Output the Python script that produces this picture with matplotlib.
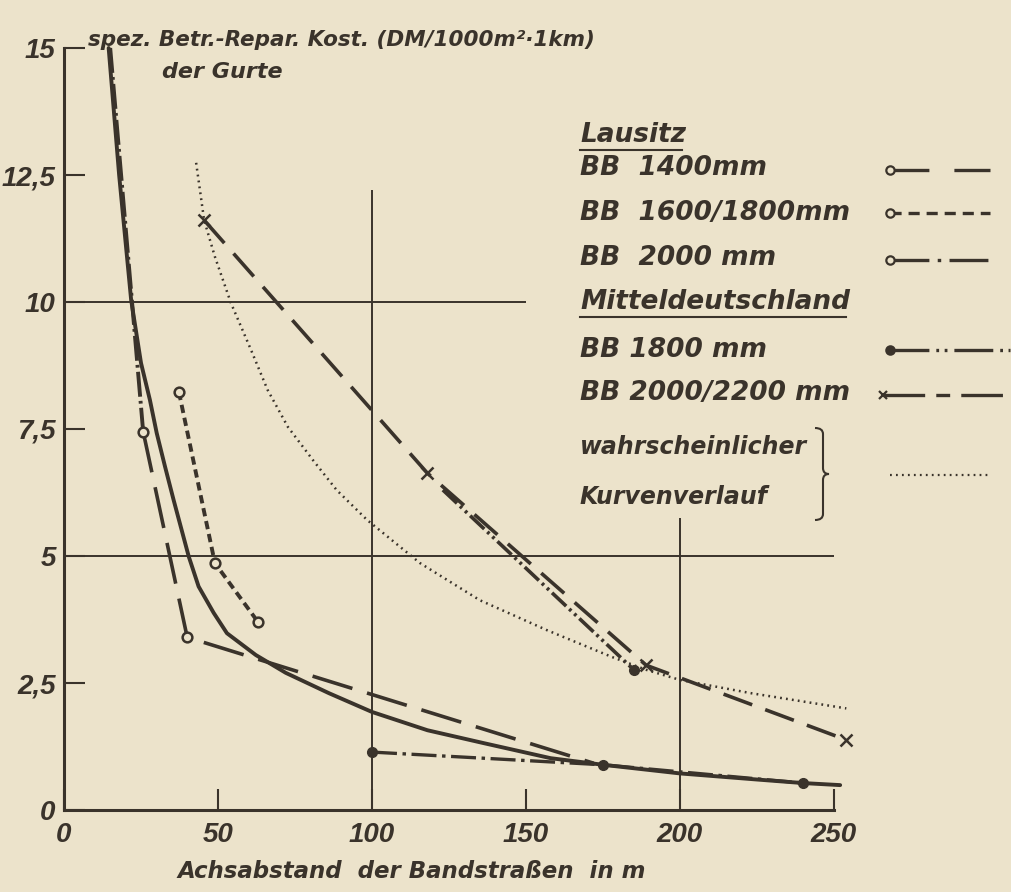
import matplotlib
matplotlib.use("Agg")
import matplotlib.pyplot as plt
from matplotlib.lines import Line2D
from matplotlib.path import Path
from matplotlib.patches import PathPatch

plt.rcParams['lines.scale_dashes'] = False
FONT = ['DejaVu Sans']
TICKFONT = ['Liberation Sans', 'DejaVu Sans']
BG = '#ece3cb'
INK = '#3a332b'

# ---------------- data ----------------
x_ticks = [0, 50, 100, 150, 200, 250]
x_tick_labels = ['0', '50', '100', '150', '200', '250']
y_ticks = [0, 2.5, 5, 7.5, 10, 12.5, 15]
y_tick_labels = ['0', '2,5', '5', '7,5', '10', '12,5', '15']

# solid mean curve
solid_x = [14.5, 17.9, 21.8, 25, 27.9, 30.1, 32.8, 35.6, 40.5, 43.7, 48.6, 52.9, 62.3, 72,
           86, 100, 118, 136, 158, 175, 200, 225, 240, 252]
solid_y = [15, 12.5, 10.04, 8.8, 8.07, 7.42, 6.76, 6.10, 4.99, 4.40, 3.88, 3.48, 3.05, 2.70,
           2.30, 1.93, 1.57, 1.32, 1.02, 0.89, 0.72, 0.60, 0.53, 0.49]

# Lausitz
bb2000_x = [15, 25.7]
bb2000_y = [15, 7.45]
bb1400_x = [25.7, 40, 172]
bb1400_y = [7.45, 3.4, 0.92]
bb1600_x = [37.3, 49, 63]
bb1600_y = [8.23, 4.86, 3.7]

# Mitteldeutschland
bb1800a_x = [123, 185]
bb1800a_y = [6.3, 2.76]
bb1800b_x = [100, 175, 240]
bb1800b_y = [1.14, 0.89, 0.53]
bb2200_x = [45.5, 118, 189, 254]
bb2200_y = [11.61, 6.63, 2.85, 1.38]

# probable curve
dot_x = [42.9, 45.5, 49, 54.2, 60.7, 66.1, 72.7, 80.8, 88.5, 98.4, 115.6, 135, 156.8,
         178, 189, 200, 223, 254]
dot_y = [12.74, 11.61, 10.89, 9.98, 9.06, 8.27, 7.54, 6.89, 6.30, 5.71, 4.86, 4.13, 3.54,
         3.01, 2.76, 2.56, 2.30, 2.0]

# partial grid lines: (value, start, end)
grid_h = [(10, 0, 150), (5, 0, 250)]
grid_v = [(100, 0, 12.2), (200, 0, 5.75)]

# ---------------- figure ----------------
W, H = 1012, 892
fig = plt.figure(figsize=(W / 100, H / 100), dpi=100, facecolor=BG)
ax = fig.add_axes([64 / W, 82 / H, 770 / W, 762 / H])
ax.set_facecolor(BG)
ax.set_xlim(0, 250)
ax.set_ylim(0, 15)
for s in ['top', 'right']:
    ax.spines[s].set_visible(False)
for s in ['left', 'bottom']:
    ax.spines[s].set_color(INK)
    ax.spines[s].set_linewidth(2.2)

ax.set_xticks(x_ticks)
ax.set_xticklabels(x_tick_labels)
ax.set_yticks(y_ticks)
ax.set_yticklabels(y_tick_labels)
ax.tick_params(axis='both', direction='in', length=15, width=1.5, color=INK,
               labelcolor=INK, labelsize=20)
ax.tick_params(axis='x', pad=9)
ax.tick_params(axis='y', pad=6)
for lab in ax.get_xticklabels() + ax.get_yticklabels():
    lab.set_family(TICKFONT)
    lab.set_style('italic')
    lab.set_weight('bold')

for v, a, b in grid_h:
    ax.hlines(v, a, b, color=INK, lw=1.4, zorder=1)
for v, a, b in grid_v:
    ax.vlines(v, a, b, color=INK, lw=1.4, zorder=1)

kw = dict(color=INK, clip_on=False, zorder=3)
ax.plot(solid_x, solid_y, lw=2.8, solid_capstyle='round', solid_joinstyle='round', **kw)
ax.plot(bb2000_x, bb2000_y, lw=2.8, dashes=(18, 3, 2, 3), **kw)
ax.plot(bb1400_x, bb1400_y, lw=2.6, dashes=(30, 11), marker='o', ms=7, mew=1.8,
        mfc=BG, markevery=[0, 1], **kw)
ax.plot(bb1600_x, bb1600_y, lw=2.8, dashes=(6, 3.5), marker='o', ms=7, mew=1.8,
        mfc=BG, **kw)
ax.plot(bb1800a_x, bb1800a_y, lw=2.6, dashes=(14, 3, 2, 3, 2, 3), marker='o', ms=7,
        mfc=INK, markevery=[1], **kw)
ax.plot(bb1800b_x, bb1800b_y, lw=2.4, dashes=(18, 4, 2.5, 4), marker='o', ms=7,
        mfc=INK, **kw)
ax.plot(bb2200_x, bb2200_y, lw=2.6, dashes=(22, 10), marker='x', ms=9, mew=1.8, **kw)
ax.plot(dot_x, dot_y, lw=1.8, dashes=(1.3, 3.0), **kw)

# ---------------- texts ----------------
def P(x, y):
    return (x / W, 1 - y / H)

tkw = dict(color=INK, family=FONT, style='italic', weight='bold')
fig.text(*P(88, 40), 'spez. Betr.-Repar. Kost. (DM/1000m²·1km)', fontsize=15.5,
         ha='left', va='center', **tkw)
fig.text(*P(162, 72), 'der Gurte', fontsize=16, ha='left', va='center', **tkw)
fig.text(*P(412, 872), 'Achsabstand  der Bandstraßen  in m', fontsize=16.5,
         ha='center', va='center', **tkw)

legend_rows = [
    ('Lausitz', 135, True, 19),
    ('BB  1400mm', 168, False, 19),
    ('BB  1600/1800mm', 213, False, 19),
    ('BB  2000 mm', 258, False, 19),
    ('Mitteldeutschland', 302, True, 19),
    ('BB 1800 mm', 350, False, 19),
    ('BB 2000/2200 mm', 393, False, 19),
    ('wahrscheinlicher', 447, False, 17),
    ('Kurvenverlauf', 497, False, 17),
]
fig.canvas.draw()
for txt, yy, ul, fs in legend_rows:
    t = fig.text(*P(580, yy), txt, fontsize=fs, ha='left', va='center', **tkw)
    if ul:
        bb = t.get_window_extent(renderer=fig.canvas.get_renderer())
        fig.add_artist(Line2D([bb.x0 / W, (bb.x1 - 4) / W], [P(0, yy + 15)[1]] * 2,
                              color=INK, lw=1.5))

def sample(y, dashes, marker=None, mfc=BG, x0=890, x1=990, lw=2.4, ms=6):
    xs, ys = [P(x0, y)[0], P(x1, y)[0]], [P(x0, y)[1]] * 2
    fig.add_artist(Line2D(xs, ys, color=INK, lw=lw, dashes=dashes))
    if marker:
        fig.add_artist(Line2D([xs[0]], [ys[0]], color=INK, marker=marker, ms=ms, mew=1.6,
                              mfc=mfc, ls='none'))

sample(170, (28, 18), marker='o')
sample(213, (8, 5), marker='o')
sample(260, (28, 6, 2.5, 6), marker='o')
sample(350, (28, 5, 2, 4, 2, 5), marker='o', mfc=INK, x1=1010)
sample(395, (30, 8, 10, 8), marker='x', x0=883, x1=1010)
sample(475, (1.3, 3.0), x0=890, x1=990, lw=1.6)

# curly brace
bx, by0, by1 = 815, 428, 520
ym = (by0 + by1) / 2
verts = [P(bx, by0), P(bx + 8, by0), P(bx + 8, by0 + 6), P(bx + 8, ym - 6),
         P(bx + 8, ym), P(bx + 14, ym), P(bx + 8, ym), P(bx + 8, ym + 6),
         P(bx + 8, by1 - 6), P(bx + 8, by1), P(bx, by1)]
codes = [Path.MOVETO, Path.CURVE3, Path.CURVE3, Path.LINETO, Path.CURVE3, Path.CURVE3,
         Path.CURVE3, Path.CURVE3, Path.LINETO, Path.CURVE3, Path.CURVE3]
fig.add_artist(PathPatch(Path(verts, codes), transform=fig.transFigure, fc='none',
                         ec=INK, lw=1.5))

fig.savefig('out.png', dpi=100, facecolor=BG)
